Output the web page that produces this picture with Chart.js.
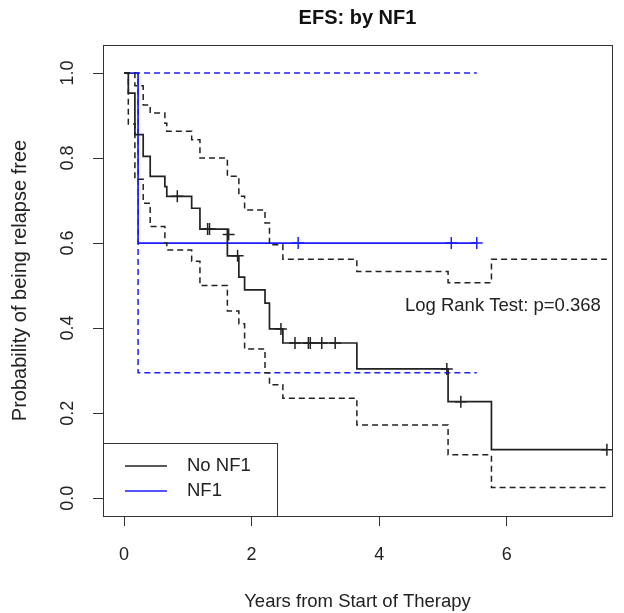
<!DOCTYPE html>
<html>
<head>
<meta charset="utf-8">
<script src="https://cdn.jsdelivr.net/npm/chart.js@4.4.1/dist/chart.umd.min.js"></script>
<style>
  body { margin: 0; background: #fff; }
  #wrap { width: 624px; height: 613px; }
</style>
</head>
<body>
<div id="wrap"><canvas id="efsChart" width="624" height="613"></canvas></div>
<script>
// No NF1: step times (years), KM estimate, 95% band
const noNf1Time  = [0, 0.067, 0.17, 0.30, 0.41, 0.64, 0.67, 1.06, 1.19, 1.62, 1.80, 1.89, 2.21, 2.28, 2.49, 3.65, 5.08, 5.76, 7.57];
const noNf1Surv  = [1, 0.953, 0.855, 0.804, 0.757, 0.733, 0.710, 0.682, 0.633, 0.570, 0.520, 0.490, 0.459, 0.398, 0.365, 0.304, 0.227, 0.114, 0.114];
const noNf1Upper = [1, 1, 0.970, 0.925, 0.906, 0.882, 0.863, 0.843, 0.800, 0.757, 0.710, 0.678, 0.647, 0.596, 0.562, 0.533, 0.507, 0.562, 0.562];
const noNf1Lower = [1, 0.880, 0.750, 0.694, 0.639, 0.600, 0.584, 0.557, 0.500, 0.440, 0.410, 0.351, 0.295, 0.267, 0.235, 0.172, 0.102, 0.025, 0.025];
const noNf1CensorTime = [0.835, 1.31, 1.34, 1.64, 1.78, 2.46, 2.68, 2.89, 2.92, 3.10, 3.31, 5.06, 5.28, 7.57];
const noNf1CensorSurv = [0.710, 0.633, 0.633, 0.620, 0.570, 0.398, 0.365, 0.365, 0.365, 0.365, 0.365, 0.304, 0.227, 0.114];

// NF1
const nf1Time  = [0, 0.22, 5.53];
const nf1Surv  = [1, 0.6, 0.6];
const nf1Upper = [1, 1, 1];
const nf1Lower = [1, 0.295, 0.295];
const nf1CensorTime = [2.73, 5.13, 5.53];
const nf1CensorSurv = [0.6, 0.6, 0.6];

const xTicks = [0, 2, 4, 6];
const yTicks = [0, 0.2, 0.4, 0.6, 0.8, 1.0];
const groupLabels = ['No NF1', 'NF1'];
const chartTitle = 'EFS: by NF1';
const pValueText = 'Log Rank Test: p=0.368';

const BLACK = '#222';
const BLUE = 'rgb(30,30,255)';
const FONT = '"Liberation Sans", Arial, sans-serif';

function pts(xs, ys) { return xs.map((x, i) => ({ x: x, y: ys[i] })); }

function stepLine(label, xs, ys, color, dashed) {
  return {
    type: 'line', label: label, data: pts(xs, ys),
    borderColor: color, borderWidth: dashed ? 1.5 : 1.7, borderDash: dashed ? [6, 4] : [],
    stepped: 'before', pointRadius: 0, fill: false, clip: false
  };
}
function censorMarks(xs, ys, color) {
  return {
    type: 'scatter', label: '', data: pts(xs, ys),
    pointStyle: 'cross', pointRadius: 6, borderColor: color, borderWidth: 1.5, clip: false
  };
}

const frameAndText = {
  id: 'frameAndText',
  afterDraw(chart) {
    const ctx = chart.ctx, a = chart.chartArea;
    const xs = chart.scales.x, ys = chart.scales.y;
    ctx.save();
    // title centred over the plot region
    ctx.fillStyle = '#111';
    ctx.font = 'bold 20px ' + FONT;
    ctx.textAlign = 'center';
    ctx.textBaseline = 'middle';
    ctx.fillText(chartTitle, (a.left + a.right) / 2, 18);
    // plot box
    ctx.strokeStyle = '#333';
    ctx.lineWidth = 1;
    ctx.strokeRect(Math.round(a.left) + 0.5, Math.round(a.top) + 0.5,
                   Math.round(a.right - a.left), Math.round(a.bottom - a.top));
    // y tick labels, rotated like R
    ctx.fillStyle = BLACK;
    ctx.font = '18px ' + FONT;
    yTicks.forEach(v => {
      ctx.save();
      ctx.translate(68, ys.getPixelForValue(v));
      ctx.rotate(-Math.PI / 2);
      ctx.fillText(v.toFixed(1), 0, 0);
      ctx.restore();
    });
    // log rank annotation
    ctx.font = '18.5px ' + FONT;
    ctx.fillText(pValueText, xs.getPixelForValue(5.94), ys.getPixelForValue(0.452));
    // legend
    const lx = a.left, ly = 443, lw = 174, lh = a.bottom - 443;
    ctx.fillStyle = '#fff';
    ctx.fillRect(lx, ly, lw, lh);
    ctx.strokeStyle = '#333';
    ctx.strokeRect(Math.round(lx) + 0.5, ly + 0.5, lw, Math.round(lh));
    [[groupLabels[0], BLACK, 466], [groupLabels[1], BLUE, 491]].forEach(([txt, col, y]) => {
      ctx.strokeStyle = col;
      ctx.lineWidth = 1.5;
      ctx.beginPath();
      ctx.moveTo(lx + 22, y);
      ctx.lineTo(lx + 64, y);
      ctx.stroke();
      ctx.fillStyle = BLACK;
      ctx.textAlign = 'left';
      ctx.fillText(txt, lx + 84, y);
    });
    ctx.restore();
  }
};

new Chart(document.getElementById('efsChart'), {
  data: {
    datasets: [
      stepLine(groupLabels[0], noNf1Time, noNf1Surv, BLACK, false),
      stepLine('', noNf1Time, noNf1Upper, BLACK, true),
      stepLine('', noNf1Time, noNf1Lower, BLACK, true),
      stepLine(groupLabels[1], nf1Time, nf1Surv, BLUE, false),
      stepLine('', nf1Time, nf1Upper, BLUE, true),
      stepLine('', nf1Time, nf1Lower, BLUE, true),
      censorMarks(noNf1CensorTime, noNf1CensorSurv, BLACK),
      censorMarks(nf1CensorTime, nf1CensorSurv, BLUE)
    ]
  },
  options: {
    responsive: false,
    animation: false,
    layout: { padding: { left: 0, right: 12, top: 45, bottom: 0 } },
    plugins: {
      legend: { display: false },
      tooltip: { enabled: false },
      title: { display: false }
    },
    scales: {
      x: {
        type: 'linear', min: -0.33, max: 7.65,
        afterBuildTicks: s => { s.ticks = xTicks.map(v => ({ value: v })); },
        afterFit: s => { s.height = 97; },
        border: { display: false },
        grid: { drawOnChartArea: false, drawTicks: true, tickLength: 10, color: '#333' },
        ticks: { color: BLACK, font: { family: FONT, size: 18 }, padding: 18, maxRotation: 0 },
        title: {
          display: true, text: 'Years from Start of Therapy', color: BLACK,
          font: { family: FONT, size: 18.5 }, padding: { top: 0, bottom: 0 }
        }
      },
      y: {
        type: 'linear', min: -0.042, max: 1.066,
        afterBuildTicks: s => { s.ticks = yTicks.map(v => ({ value: v })); },
        afterFit: s => { s.width = 103; },
        border: { display: false },
        grid: { drawOnChartArea: false, drawTicks: true, tickLength: 10, color: '#333' },
        ticks: { display: false },
        title: {
          display: true, text: 'Probability of being relapse free', color: BLACK,
          font: { family: FONT, size: 20 }, padding: { top: 8, bottom: 0 }
        }
      }
    }
  },
  plugins: [frameAndText]
});
</script>
</body>
</html>
